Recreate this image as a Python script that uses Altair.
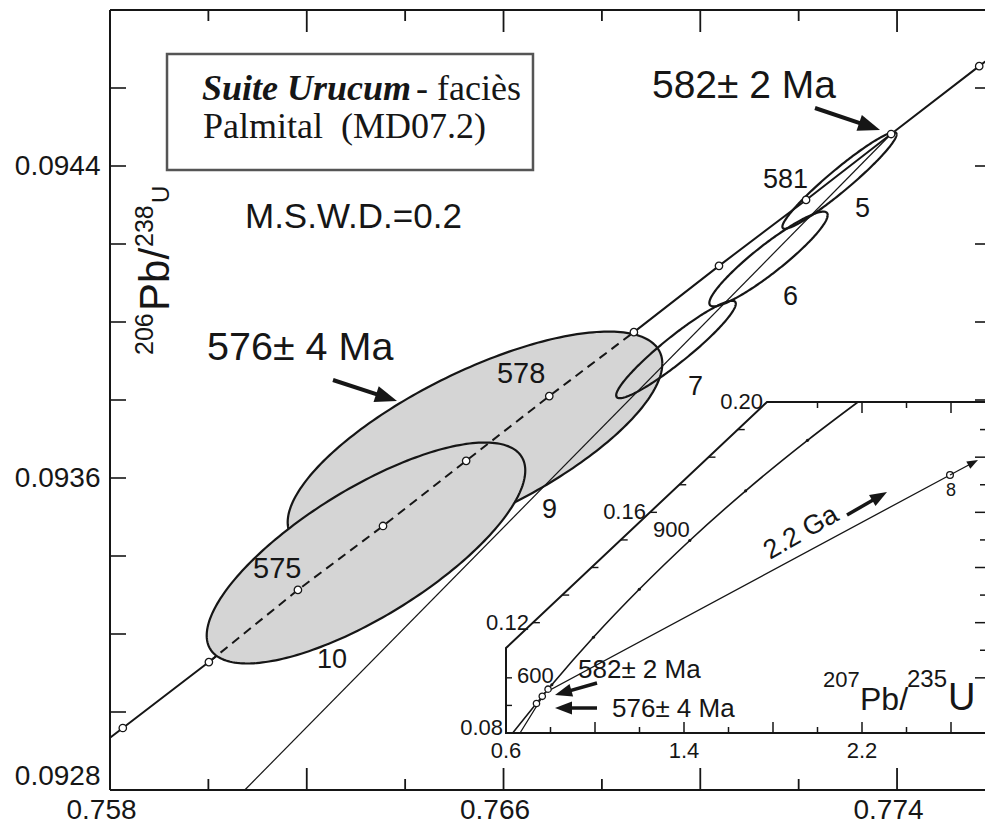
import numpy as np
import pandas as pd
import altair as alt

FONT = "Liberation Sans"
SERIF = "Liberation Serif"
INK = "#161616"
SHADE = "#d5d5d5"

# ---------------- main diagram: axes ----------------
x_domain = [0.758, 0.775788]
y_domain = [0.0928, 0.0948]
x_label_values = [0.758, 0.766, 0.774]
y_label_values = [0.0928, 0.0936, 0.0944]
x_ticks_major = [0.762, 0.766, 0.770, 0.774]
x_ticks_minor = [0.760, 0.764, 0.768, 0.772]
y_ticks = [0.0930, 0.0932, 0.0934, 0.0936, 0.0938, 0.0940, 0.0942, 0.0944, 0.0946]
x_right_edge = 0.775788

# ---------------- concordia (main), markers 573..583 Ma ----------------
conc_ages = [573, 574, 575, 576, 577, 578, 579, 580, 581, 582, 583]
conc_x = [0.75826, 0.76001, 0.76182, 0.76355, 0.76524, 0.76693, 0.76865,
          0.77038, 0.77215, 0.77388, 0.77567]
conc_y = [0.092959, 0.093128, 0.093313, 0.093477, 0.093644, 0.093810,
          0.093974, 0.094144, 0.094313, 0.094482, 0.094656]
conc_start = [0.7580, 0.092934]
conc_end = [0.7760, 0.094688]

# ---------------- error ellipses (center, half-widths, correlation) ----------------
ell_name = ["9", "10", "7", "6", "5"]
ell_cx = [0.765420, 0.763204, 0.769506, 0.771387, 0.772830]
ell_cy = [0.093690, 0.0934077, 0.0939295, 0.0941615, 0.0943628]
ell_sx = [0.003808, 0.003238, 0.001216, 0.001203, 0.001161]
ell_sy = [0.0002854, 0.0002833, 0.0001249, 0.0001215, 0.0001238]
ell_rho = [0.7125, 0.7466, 0.940, 0.927, 0.956]
ell_filled = [True, True, False, False, False]

# thin reference line
thin_x = [0.76074, 0.77388]
thin_y = [0.09280, 0.094482]

# ---------------- annotations (main) ----------------
num_text = ["581", "5", "6", "7", "578", "575", "10", "9"]
num_x = [0.771275, 0.773145, 0.771682, 0.769750, 0.765867, 0.760907, 0.762208, 0.766782]
num_y = [0.094344, 0.094269, 0.094044, 0.093813, 0.093844, 0.093344, 0.093113, 0.093497]
num_size = [27, 27, 27, 27, 29, 29, 27, 27]

big_text = ["582\u00b1 2 Ma", "576\u00b1 4 Ma", "M.S.W.D.=0.2"]
big_x = [0.769018, 0.759972, 0.760744]
big_y = [0.094574, 0.093903, 0.094241]
big_size = [39, 39.5, 35]

box_x = [0.759159, 0.766599]
box_y = [0.094390, 0.094687]
box_line1_bold = "Suite Urucum"
box_line1_rest = "- faci\u00e8s"
box_line2 = "Palmital\u00a0\u00a0(MD07.2)"
box_text_x = [0.759870, 0.764221, 0.759891]
box_text_y = [0.094569, 0.094569, 0.094472]

arrow_tail_x = [0.772332, 0.762533]
arrow_tail_y = [0.0945487, 0.0938513]
arrow_tip_x = [0.773654, 0.763835]
arrow_tip_y = [0.0944923, 0.0937974]
arrow_angle = [108.7, 108.2]
arrow_neck = [0.78, 0.77]

ytitle_anchor = [0.759199, 0.0939154]

# ---------------- inset (full concordia) ----------------
ix_domain = [0.6, 2.8]
iy_domain = [0.08, 0.20]
inset_right = 2.7528
inset_frame_x = [2.8, 0.6, 0.6, 1.773, 2.8]
inset_frame_y = [0.08, 0.08, 0.1108, 0.20, 0.20]
inset_xt_major = [1.0, 1.4, 1.8, 2.2, 2.6]
inset_xt_minor = [0.8, 1.2, 1.6, 2.0, 2.4]
inset_top_major = [2.2, 2.6]
inset_top_minor = [2.0, 2.4]
inset_x_labels = [0.6, 1.4, 2.2]
inset_diag_ticks = [0.12, 0.13, 0.14, 0.15, 0.16, 0.17, 0.18, 0.19, 0.20]
inset_diag_labels = [0.12, 0.16, 0.20]
inset_left_ticks = [0.09, 0.10]
inset_right_major = [0.10, 0.12, 0.14, 0.16, 0.18]
inset_right_minor = [0.11, 0.13, 0.15, 0.17, 0.19]

ic_age = [496, 600, 700, 800, 900, 1000, 1100, 1175]
ic_x = [0.630, 0.806, 0.993, 1.199, 1.426, 1.677, 1.955, 2.182]
ic_y = [0.0800, 0.0975, 0.1147, 0.1321, 0.1498, 0.1678, 0.1861, 0.2000]

disc_x = [0.663, 0.775, 2.5955]
disc_y = [0.0800, 0.0946, 0.17355]
pt8 = [2.5955, 0.17355]
small_ell_x = [0.737, 0.763, 0.789]
small_ell_y = [0.0907, 0.0933, 0.0959]

in_arrow_tail_x = [1.009, 1.009, 2.1326, 2.5955]
in_arrow_tail_y = [0.09813, 0.08906, 0.15904, 0.17355]
in_arrow_tip_x = [0.8202, 0.8202, 2.3124, 2.7213]
in_arrow_tip_y = [0.09378, 0.08906, 0.16738, 0.17898]
in_arrow_angle = [254, 270, 60, 61.8]
in_arrow_neck = [0.74, 0.73, 0.76, 0.70]
in_arrow_width = [3.5, 3.5, 3.5, 1.3]
in_arrow_head = [17, 17, 17, 11]

in_text = ["900", "600", "582\u00b1 2 Ma", "576\u00b1 4 Ma"]
in_text_x = [1.2607, 0.6494, 0.9236, 1.0764]
in_text_y = [0.15107, 0.09813, 0.09994, 0.08580]
in_text_size = [22, 22, 26, 26]
ga_text = "2.2 Ga"
ga_pos = [1.7865, 0.14273]
ratio_anchor = [2.0247, 0.08834]

# ======================================================================
W, H = 875, 780
XS = alt.Scale(domain=x_domain, nice=False, zero=False, padding=0)
YS = alt.Scale(domain=y_domain, nice=False, zero=False, padding=0)
XA = alt.Axis(values=x_label_values, format=".3f", domain=False, ticks=False, grid=False,
              labelFont=FONT, labelFontSize=28, labelColor=INK, labelPadding=6,
              labelOffset=-9, labelFlush=False)
YA = alt.Axis(values=y_label_values, format=".4f", domain=False, ticks=False, grid=False,
              labelFont=FONT, labelFontSize=28, labelColor=INK, labelPadding=10,
              labelFlush=True)


def MX(f="x"):
    return alt.X(f"{f}:Q", scale=XS, axis=XA, title=None)


def MY(f="y"):
    return alt.Y(f"{f}:Q", scale=YS, axis=YA, title=None)


IXS = alt.Scale(domain=ix_domain, range=[396, 885.5], nice=False, zero=False, padding=0)
IYS = alt.Scale(domain=iy_domain, range=[723, 392], nice=False, zero=False, padding=0)


def IX(f="x"):
    return alt.X(f"{f}:Q", scale=IXS, axis=None)


def IY(f="y"):
    return alt.Y(f"{f}:Q", scale=IYS, axis=None)


def line_df(xs, ys):
    d = pd.DataFrame({"x": list(xs), "y": list(ys)})
    d["i"] = np.arange(len(d))
    return d


def ellipse_outline(cx, cy, sx, sy, rho, n=241):
    t = np.linspace(0, 2 * np.pi, n)
    return cx + sx * np.cos(t), cy + sy * (rho * np.cos(t) + np.sqrt(1 - rho ** 2) * np.sin(t))


def ellipse_band(cx, cy, sx, sy, rho, n=181):
    t = np.linspace(0, np.pi, n)
    c = rho * np.cos(t)
    s = np.sqrt(1 - rho ** 2) * np.sin(t)
    return cx + sx * np.cos(t), cy + sy * (c + s), cy + sy * (c - s)


ARROW_PATH = "M0,0L0.38,1L-0.38,1Z"

main = []

# frame
frame = pd.DataFrame({"x": [0.758, 0.758, 0.758], "x2": [x_right_edge, 0.758, x_right_edge],
                      "y": [0.0928, 0.0928, 0.0948], "y2": [0.0928, 0.0948, 0.0948]})
main.append(alt.Chart(frame).mark_rule(color=INK, strokeWidth=2).encode(
    x=MX(), x2=alt.X2("x2:Q"), y=MY(), y2=alt.Y2("y2:Q")))

# ticks
ldf = pd.DataFrame({"x": [0.758] * len(y_ticks), "y": y_ticks})
main.append(alt.Chart(ldf).mark_rule(color=INK, strokeWidth=1.6, x2Offset=16).encode(
    x=MX(), x2=alt.X2("x:Q"), y=MY()))
rdf = pd.DataFrame({"x": [x_right_edge] * len(y_ticks), "y": y_ticks})
main.append(alt.Chart(rdf).mark_rule(color=INK, strokeWidth=1.6, x2Offset=-10).encode(
    x=MX(), x2=alt.X2("x:Q"), y=MY()))
for vals, ln in [(x_ticks_major, 22), (x_ticks_minor, 11)]:
    bdf = pd.DataFrame({"x": vals, "y": [0.0928] * len(vals)})
    main.append(alt.Chart(bdf).mark_rule(color=INK, strokeWidth=1.8, y2Offset=-ln).encode(
        x=MX(), y=MY(), y2=alt.Y2("y:Q")))
    tdf = pd.DataFrame({"x": vals, "y": [0.0948] * len(vals)})
    main.append(alt.Chart(tdf).mark_rule(color=INK, strokeWidth=1.8, y2Offset=ln).encode(
        x=MX(), y=MY(), y2=alt.Y2("y:Q")))

# concordia solid
cs = line_df([conc_start[0]] + conc_x + [conc_end[0]], [conc_start[1]] + conc_y + [conc_end[1]])
main.append(alt.Chart(cs).mark_line(color=INK, strokeWidth=2).encode(x=MX(), y=MY(), order="i:Q"))


def ellipse_layers(k):
    out = []
    if ell_filled[k]:
        xb, yu, yl = ellipse_band(ell_cx[k], ell_cy[k], ell_sx[k], ell_sy[k], ell_rho[k])
        out.append(alt.Chart(pd.DataFrame({"x": xb, "y": yu, "y2": yl})).mark_area(
            color=SHADE, opacity=1).encode(x=MX(), y=MY(), y2=alt.Y2("y2:Q")))
    xo, yo = ellipse_outline(ell_cx[k], ell_cy[k], ell_sx[k], ell_sy[k], ell_rho[k])
    out.append(alt.Chart(line_df(xo, yo)).mark_line(color=INK, strokeWidth=2.2).encode(
        x=MX(), y=MY(), order="i:Q"))
    return out


main += ellipse_layers(0)
main += ellipse_layers(1)

# dashed concordia inside the shaded ellipses (574..579)
cd = line_df(conc_x[1:7], conc_y[1:7])
main.append(alt.Chart(cd).mark_line(color=INK, strokeWidth=2, strokeDash=[9, 6]).encode(
    x=MX(), y=MY(), order="i:Q"))

# thin line
main.append(alt.Chart(line_df(thin_x, thin_y)).mark_line(color=INK, strokeWidth=1.2).encode(
    x=MX(), y=MY(), order="i:Q"))

for k in (2, 3, 4):
    main += ellipse_layers(k)

# age markers
mk = pd.DataFrame({"x": conc_x, "y": conc_y, "age": conc_ages})
main.append(alt.Chart(mk).mark_point(shape="circle", size=55, filled=True, fill="white",
                                     stroke=INK, strokeWidth=1.3, opacity=1).encode(x=MX(), y=MY()))

# box
bx = pd.DataFrame({"x": [box_x[0]], "x2": [box_x[1]], "y": [box_y[0]], "y2": [box_y[1]]})
main.append(alt.Chart(bx).mark_rect(fill="white", stroke="#555555", strokeWidth=2.5).encode(
    x=MX(), x2=alt.X2("x2:Q"), y=MY(), y2=alt.Y2("y2:Q")))
main.append(alt.Chart(pd.DataFrame({"x": [box_text_x[0]], "y": [box_text_y[0]], "t": [box_line1_bold]}))
            .mark_text(font=SERIF, fontSize=36, fontWeight="bold", fontStyle="italic", color=INK,
                       align="left", baseline="alphabetic").encode(x=MX(), y=MY(), text="t:N"))
main.append(alt.Chart(pd.DataFrame({"x": box_text_x[1:], "y": box_text_y[1:],
                                    "t": [box_line1_rest, box_line2]}))
            .mark_text(font=SERIF, fontSize=36, color=INK, align="left", baseline="alphabetic")
            .encode(x=MX(), y=MY(), text="t:N"))

# labels
nd = pd.DataFrame({"x": num_x + big_x, "y": num_y + big_y, "t": num_text + big_text,
                   "s": num_size + big_size})
main.append(alt.Chart(nd).mark_text(font=FONT, color=INK, align="left", baseline="alphabetic")
            .encode(x=MX(), y=MY(), text="t:N", size=alt.Size("s:Q", scale=None)))

# y title pieces (rotated)
for txt, fs, dx, dy in [("206", 25, 0, -16), ("Pb/", 42, 44, 0), ("238", 25, 108, -16), ("U", 24, 152, 0)]:
    main.append(alt.Chart(pd.DataFrame({"x": [ytitle_anchor[0]], "y": [ytitle_anchor[1]], "t": [txt]}))
                .mark_text(font=FONT, fontSize=fs, color=INK, align="left", baseline="alphabetic",
                           angle=270, dx=dx, dy=dy).encode(x=MX(), y=MY(), text="t:N"))

# main arrows
for k in range(len(arrow_tail_x)):
    nx = arrow_tail_x[k] + (arrow_tip_x[k] - arrow_tail_x[k]) * arrow_neck[k]
    ny = arrow_tail_y[k] + (arrow_tip_y[k] - arrow_tail_y[k]) * arrow_neck[k]
    sh = pd.DataFrame({"x": [arrow_tail_x[k]], "y": [arrow_tail_y[k]], "x2": [nx], "y2": [ny]})
    main.append(alt.Chart(sh).mark_rule(color=INK, strokeWidth=4).encode(
        x=MX(), y=MY(), x2=alt.X2("x2:Q"), y2=alt.Y2("y2:Q")))
    hd = pd.DataFrame({"x": [arrow_tip_x[k]], "y": [arrow_tip_y[k]]})
    main.append(alt.Chart(hd).mark_point(shape=ARROW_PATH, size=4 * 22 * 22, filled=True, color=INK,
                                         opacity=1, angle=arrow_angle[k], strokeWidth=0)
                .encode(x=MX(), y=MY()))

main_layer = alt.layer(*main)

# ======================================================================
inset = []
# white background
bg = pd.DataFrame({"x": [0.6, 1.773, 2.8], "y": [0.1108, 0.20, 0.20], "y2": [0.08, 0.08, 0.08]})
inset.append(alt.Chart(bg).mark_area(color="white", opacity=1).encode(x=IX(), y=IY(), y2=alt.Y2("y2:Q")))
inset.append(alt.Chart(line_df(inset_frame_x, inset_frame_y)).mark_line(color=INK, strokeWidth=2)
             .encode(x=IX(), y=IY(), order="i:Q"))

for vals, ln in [(inset_xt_major, 11), (inset_xt_minor, 6)]:
    d = pd.DataFrame({"x": vals, "y": [0.08] * len(vals)})
    inset.append(alt.Chart(d).mark_rule(color=INK, strokeWidth=1.5, y2Offset=-ln).encode(
        x=IX(), y=IY(), y2=alt.Y2("y:Q")))
for vals, ln in [(inset_top_major, 11), (inset_top_minor, 6)]:
    d = pd.DataFrame({"x": vals, "y": [0.20] * len(vals)})
    inset.append(alt.Chart(d).mark_rule(color=INK, strokeWidth=1.5, y2Offset=ln).encode(
        x=IX(), y=IY(), y2=alt.Y2("y:Q")))
for vals, ln in [(inset_right_major, -10), (inset_right_minor, -5)]:
    d = pd.DataFrame({"x": [inset_right] * len(vals), "y": vals})
    inset.append(alt.Chart(d).mark_rule(color=INK, strokeWidth=1.5, x2Offset=ln).encode(
        x=IX(), x2=alt.X2("x:Q"), y=IY()))
dg_x = list(np.interp(inset_diag_ticks, [0.1108, 0.20], [0.6, 1.773]))
d = pd.DataFrame({"x": dg_x, "y": inset_diag_ticks})
inset.append(alt.Chart(d).mark_rule(color=INK, strokeWidth=1.4, x2Offset=7).encode(
    x=IX(), x2=alt.X2("x:Q"), y=IY()))
d = pd.DataFrame({"x": [0.6] * len(inset_left_ticks), "y": inset_left_ticks})
inset.append(alt.Chart(d).mark_rule(color=INK, strokeWidth=1.4, x2Offset=6).encode(
    x=IX(), x2=alt.X2("x:Q"), y=IY()))

# inset concordia + discordia
inset.append(alt.Chart(line_df(ic_x, ic_y)).mark_line(color=INK, strokeWidth=1.6, interpolate="monotone")
             .encode(x=IX(), y=IY(), order="i:Q"))
tk = pd.DataFrame({"x": ic_x[1:-1], "y": ic_y[1:-1]})
inset.append(alt.Chart(tk).mark_point(shape="circle", size=10, filled=True, color=INK, opacity=1)
             .encode(x=IX(), y=IY()))
inset.append(alt.Chart(line_df(disc_x, disc_y)).mark_line(color=INK, strokeWidth=1.3)
             .encode(x=IX(), y=IY(), order="i:Q"))
se = pd.DataFrame({"x": small_ell_x, "y": small_ell_y})
inset.append(alt.Chart(se).mark_point(shape="circle", size=40, filled=True, fill="white", stroke=INK,
                                      strokeWidth=1.3, opacity=1).encode(x=IX(), y=IY()))
p8 = pd.DataFrame({"x": [pt8[0]], "y": [pt8[1]]})
inset.append(alt.Chart(p8).mark_point(shape="circle", size=45, filled=True, fill="white", stroke=INK,
                                      strokeWidth=1.3, opacity=1).encode(x=IX(), y=IY()))

# inset arrows
for k in range(len(in_arrow_tail_x)):
    nx = in_arrow_tail_x[k] + (in_arrow_tip_x[k] - in_arrow_tail_x[k]) * in_arrow_neck[k]
    ny = in_arrow_tail_y[k] + (in_arrow_tip_y[k] - in_arrow_tail_y[k]) * in_arrow_neck[k]
    sh = pd.DataFrame({"x": [in_arrow_tail_x[k]], "y": [in_arrow_tail_y[k]], "x2": [nx], "y2": [ny]})
    inset.append(alt.Chart(sh).mark_rule(color=INK, strokeWidth=in_arrow_width[k]).encode(
        x=IX(), y=IY(), x2=alt.X2("x2:Q"), y2=alt.Y2("y2:Q")))
    hd = pd.DataFrame({"x": [in_arrow_tip_x[k]], "y": [in_arrow_tip_y[k]]})
    inset.append(alt.Chart(hd).mark_point(shape=ARROW_PATH, size=4 * in_arrow_head[k] ** 2, filled=True,
                                          color=INK, opacity=1, angle=in_arrow_angle[k], strokeWidth=0)
                 .encode(x=IX(), y=IY()))

# inset texts
d = pd.DataFrame({"x": in_text_x, "y": in_text_y, "t": in_text, "s": in_text_size})
inset.append(alt.Chart(d).mark_text(font=FONT, color=INK, align="left", baseline="alphabetic")
             .encode(x=IX(), y=IY(), text="t:N", size=alt.Size("s:Q", scale=None)))
inset.append(alt.Chart(pd.DataFrame({"x": [ga_pos[0]], "y": [ga_pos[1]], "t": [ga_text]}))
             .mark_text(font=FONT, fontSize=27, color=INK, align="left", baseline="alphabetic", angle=330)
             .encode(x=IX(), y=IY(), text="t:N"))
inset.append(alt.Chart(pd.DataFrame({"x": [pt8[0]], "y": [pt8[1]], "t": ["8"]}))
             .mark_text(font=FONT, fontSize=18, color=INK, align="center", baseline="top", dy=7, dx=1)
             .encode(x=IX(), y=IY(), text="t:N"))
d = pd.DataFrame({"x": inset_x_labels, "y": [0.08] * 3, "t": ["0.6", "1.4", "2.2"]})
inset.append(alt.Chart(d).mark_text(font=FONT, fontSize=22, color=INK, align="center", baseline="top", dy=8)
             .encode(x=IX(), y=IY(), text="t:N"))
dl_x = list(np.interp(inset_diag_labels, [0.1108, 0.20], [0.6, 1.773]))
d = pd.DataFrame({"x": dl_x, "y": inset_diag_labels, "t": ["0.12", "0.16", "0.20"]})
inset.append(alt.Chart(d).mark_text(font=FONT, fontSize=22, color=INK, align="right", baseline="middle", dx=-4)
             .encode(x=IX(), y=IY(), text="t:N"))
d = pd.DataFrame({"x": [0.6], "y": [0.08], "t": ["0.08"]})
inset.append(alt.Chart(d).mark_text(font=FONT, fontSize=22, color=INK, align="right", baseline="alphabetic",
                                    dx=-3, dy=2)
             .encode(x=IX(), y=IY(), text="t:N"))
for txt, fs, dx, dy in [("207", 22, 0, -23), ("Pb/", 32, 37, 0), ("235", 24, 84, -23), ("U", 38, 125, 0)]:
    inset.append(alt.Chart(pd.DataFrame({"x": [ratio_anchor[0]], "y": [ratio_anchor[1]], "t": [txt]}))
                 .mark_text(font=FONT, fontSize=fs, color=INK, align="left", baseline="alphabetic",
                            dx=dx, dy=dy).encode(x=IX(), y=IY(), text="t:N"))

inset_layer = alt.layer(*inset)

chart = alt.layer(main_layer, inset_layer).resolve_scale(x="independent", y="independent").properties(
    width=W, height=H,
    padding={"left": 102, "top": 2, "right": 0, "bottom": 34},
    autosize=alt.AutoSizeParams(type="none"),
    background="white",
).configure_view(stroke=None)

chart.save("out.html", embed_options={"renderer": "svg", "actions": False})
